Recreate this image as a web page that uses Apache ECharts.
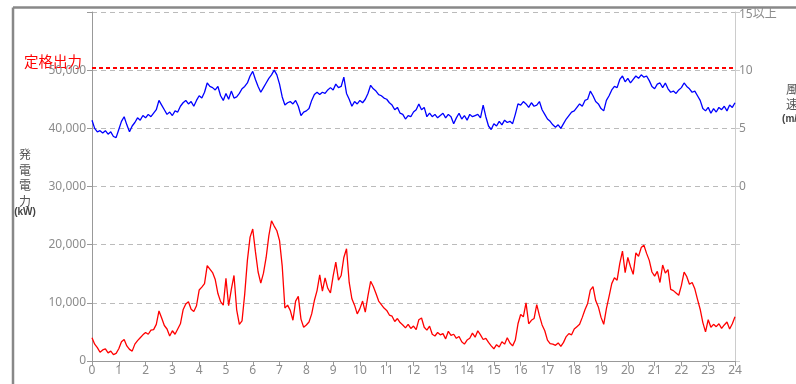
<!DOCTYPE html>
<html>
<head>
<meta charset="utf-8">
<script src="https://cdn.jsdelivr.net/npm/echarts@6/dist/echarts.min.js"></script>
<style>
  html, body { margin: 0; padding: 0; background: #fff; }
  #main { width: 796px; height: 384px; }
</style>
</head>
<body>
<div id="main"></div>
<script>
// 風速 (m/s) 0.1時間ごと 0:00〜24:00
var windSpeed = [
  5.7,5.0,4.7,4.8,4.6,4.8,4.5,4.7,4.3,4.2,
  4.9,5.6,6.0,5.3,4.7,5.2,5.5,5.9,5.7,6.1,
  5.9,6.2,6.0,6.3,6.6,7.4,7.0,6.6,6.2,6.4,
  6.1,6.5,6.4,6.9,7.2,7.4,7.1,7.3,6.9,7.4,
  7.8,7.6,8.1,8.9,8.6,8.5,8.3,8.6,7.8,7.4,
  8.0,7.5,8.2,7.6,7.7,8.0,8.4,8.6,8.9,9.5,
  9.9,9.2,8.6,8.1,8.5,8.9,9.3,9.6,10.0,9.6,
  8.8,7.7,7.0,7.2,7.3,7.1,7.4,6.9,6.1,6.4,
  6.5,6.7,7.4,7.9,8.1,7.9,8.1,8.0,8.3,8.5,
  8.3,8.8,8.5,8.6,9.4,8.0,7.5,6.9,7.3,7.1,
  7.4,7.2,7.5,8.0,8.7,8.4,8.2,7.9,7.8,7.6,
  7.5,7.2,7.0,6.6,6.8,6.3,6.2,5.8,6.1,6.0,
  6.4,6.6,7.1,6.6,6.8,6.0,6.3,6.0,6.2,5.9,
  6.1,6.3,5.9,6.2,6.0,5.4,5.9,6.3,5.8,6.1,
  5.7,6.2,6.0,6.1,6.2,5.9,7.0,6.0,5.2,4.9,
  5.4,5.2,5.6,5.3,5.7,5.5,5.6,5.4,6.2,7.1,
  7.0,7.3,7.1,6.8,7.2,6.9,7.0,7.3,6.6,6.2,
  5.8,5.6,5.3,5.1,5.3,5.0,5.4,5.8,6.1,6.4,
  6.5,6.8,7.1,6.9,7.4,7.5,8.2,7.8,7.3,7.1,
  6.7,6.5,7.4,7.8,8.3,8.6,8.5,9.2,9.5,9.0,
  9.3,8.9,9.2,9.5,9.3,9.6,9.4,9.5,9.1,8.6,
  8.4,8.8,8.9,8.5,8.9,8.4,8.1,8.2,8.0,8.3,
  8.5,8.9,8.6,8.4,8.1,8.2,7.8,7.4,6.7,6.5,
  6.8,6.3,6.7,6.4,6.8,6.6,6.9,6.5,7.0,6.8,
  7.2
];

// 発電電力 (kW) 0.1時間ごと
var power = [
  4000,2900,2300,1500,1900,2100,1400,1700,1100,1300,
  2100,3300,3700,2600,2000,1700,2900,3500,4000,4500,
  4900,4600,5300,5400,6300,8600,7400,6100,5500,4300,
  5200,4600,5500,6400,8800,9800,10200,8900,8500,9500,
  12200,12700,13300,16400,15800,15200,14000,11600,10200,9600,
  14200,9500,12300,14700,8800,6300,6900,11500,17300,21300,
  22700,18800,15300,13400,15100,17800,21500,24100,23200,22400,
  20700,16300,9100,9600,8700,7000,10300,11100,7200,5800,
  6200,6700,8100,10400,12100,14800,12000,14300,12500,11700,
  14600,17000,13900,14700,17800,19300,13500,10700,9600,8100,
  9000,10300,8400,11200,13700,12800,11600,10300,9700,9100,
  8700,7900,7700,6800,7300,6600,6200,5700,6300,5600,
  6000,5400,7100,7400,5800,5300,6000,4600,4300,4900,
  4500,4700,3800,5100,4400,4600,3900,4200,3300,2900,
  3600,3900,4800,4100,5200,4500,3700,3900,3200,2600,
  2100,2800,2400,3300,2900,4000,3100,2600,3600,6400,
  8000,7600,10000,6400,7000,7300,9700,7800,6200,5200,
  3600,3000,2900,2700,3100,2500,3200,4200,4700,4500,
  5500,5900,6300,7500,8800,9900,12200,12800,10400,9300,
  7500,6300,9000,11100,13300,14300,13900,16800,18900,15200,
  17800,16200,14900,18600,18000,19500,19900,18500,17300,15300,
  14600,15400,13500,16500,15100,15700,12300,12100,11700,11300,
  13000,15300,14500,13200,13500,12400,10600,8900,6600,5000,
  7100,5800,6300,5900,6400,5600,6200,6700,5500,6400,
  7600
];

// 定格出力 (kW)
var ratedOutput = 50400;

var powerTicks = [0, 10000, 20000, 30000, 40000, 50000, 60000];
var windTicks = [-15, -10, -5, 0, 5, 10, 15];

function pairs(values) {
  return values.map(function (v, i) { return [i / 10, v]; });
}

var chart = echarts.init(document.getElementById('main'));
var gray = '#8c8c8c';

var option = {
  animation: false,
  textStyle: { fontFamily: 'Noto Sans, Noto Sans CJK JP, sans-serif' },
  grid: { left: 92, right: 61, top: 12, bottom: 23, containLabel: false },
  xAxis: {
    type: 'value',
    min: 0,
    max: 24,
    interval: 1,
    axisLine: { lineStyle: { color: '#999', width: 1 } },
    axisTick: { show: true, length: 5, lineStyle: { color: '#999' } },
    axisLabel: { color: gray, fontSize: 12, margin: 4 },
    splitLine: { show: false }
  },
  yAxis: [
    {
      type: 'value',
      min: powerTicks[0],
      max: powerTicks[powerTicks.length - 1],
      interval: 10000,
      axisLine: { show: true, lineStyle: { color: '#999' } },
      axisTick: { show: true, length: 5, lineStyle: { color: '#999' } },
      axisLabel: {
        color: gray,
        fontSize: 12,
        margin: 6,
        formatter: function (v) {
          if (v === 60000) return '';
          return v.toLocaleString('en-US');
        }
      },
      splitLine: { show: true, lineStyle: { color: '#bbb', type: [5, 4] } }
    },
    {
      type: 'value',
      min: windTicks[0],
      max: windTicks[windTicks.length - 1],
      interval: 5,
      position: 'right',
      axisLine: { show: true, lineStyle: { color: '#ccc' } },
      axisTick: { show: true, length: 5, lineStyle: { color: '#ccc' } },
      axisLabel: {
        color: gray,
        fontSize: 12,
        margin: 4,
        formatter: function (v) {
          if (v < 0) return '';
          if (v === 15) return '{top|15以上}';
          return String(v);
        },
        rich: {
          top: { color: gray, fontSize: 12, padding: [6, 0, 0, 0] }
        }
      },
      splitLine: { show: false }
    }
  ],
  series: [
    {
      name: '発電電力',
      type: 'line',
      yAxisIndex: 0,
      data: pairs(power),
      showSymbol: false,
      lineStyle: { color: '#ff0000', width: 1.3 },
      itemStyle: { color: '#ff0000' },
      markLine: {
        silent: true,
        symbol: 'none',
        label: { show: false },
        lineStyle: { color: '#ff0000', type: [4, 3], width: 2 },
        data: [{ yAxis: ratedOutput }]
      }
    },
    {
      name: '風速',
      type: 'line',
      yAxisIndex: 1,
      data: pairs(windSpeed),
      showSymbol: false,
      lineStyle: { color: '#0000ff', width: 1.3 },
      itemStyle: { color: '#0000ff' }
    }
  ],
  graphic: [
    // 外枠
    { type: 'line', shape: { x1: 13, y1: 7.5, x2: 796, y2: 7.5 }, style: { stroke: '#888', lineWidth: 2.5 } },
    { type: 'line', shape: { x1: 13, y1: 7.5, x2: 13, y2: 384 }, style: { stroke: '#888', lineWidth: 2.5 } },
    // 定格出力ラベル
    { type: 'text', left: 24, top: 54, style: { text: '定格出力', fill: '#ff0000', fontSize: 14.5, fontFamily: 'Noto Sans CJK JP' } },
    // 左軸名
    {
      type: 'text', x: 25, y: 147,
      style: { text: '発\n電\n電\n力', fill: '#555', fontSize: 12, lineHeight: 15.5, textAlign: 'center', fontFamily: 'Noto Sans CJK JP' }
    },
    { type: 'text', x: 25, y: 207, style: { text: '(kW)', fill: '#444', fontSize: 10, fontWeight: 'bold', textAlign: 'center' } },
    // 右軸名
    {
      type: 'text', x: 792, y: 82,
      style: { text: '風\n速', fill: '#555', fontSize: 12, lineHeight: 15, textAlign: 'center', fontFamily: 'Noto Sans CJK JP' }
    },
    { type: 'text', x: 794, y: 114, style: { text: '(m/s)', fill: '#444', fontSize: 10, fontWeight: 'bold', textAlign: 'center' } }
  ]
};

chart.setOption(option);
</script>
</body>
</html>
